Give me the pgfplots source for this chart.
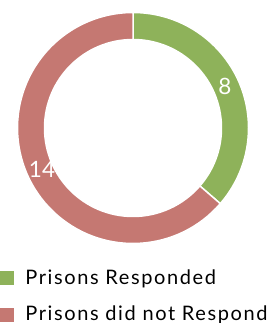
\documentclass[border=0pt]{standalone}
\usepackage{pgfplots}
\usepackage{pgfplotstable}
\pgfplotsset{compat=1.18}
\usepackage{fontspec}
\setmainfont{Lato}
\newfontfamily\legfont[LetterSpace=8]{Lato}
\definecolor{grn}{HTML}{8EB25A}
\definecolor{rd}{HTML}{C57872}
\pgfplotstableread{
label value
Responded 8
NotResponded 14
}\donutdata
\begin{document}
\begin{tikzpicture}
\pgfplotstablegetelem{0}{value}\of\donutdata \let\va\pgfplotsretval
\pgfplotstablegetelem{1}{value}\of\donutdata \let\vb\pgfplotsretval
\pgfmathsetmacro{\tot}{\va+\vb}
\pgfmathsetmacro{\sa}{90}
\pgfmathsetmacro{\sb}{90-360*\va/\tot}
\pgfmathsetmacro{\se}{90-360}
\pgfmathsetmacro{\ma}{(\sa+\sb)/2}
\pgfmathsetmacro{\mb}{(\sb+\se)/2}
\useasboundingbox (0,0) rectangle (269pt,323pt);
\begin{axis}[
  disabledatascaling,
  x=1pt, y=1pt,
  xmin=0, xmax=269, ymin=0, ymax=323,
  scale only axis,
  hide axis,
  clip=false,
  legend style={draw=none, fill=none, inner sep=0pt, outer sep=0pt,
    at={(axis cs:0,55)}, anchor=north west, font=\legfont\fontsize{20}{23}\selectfont,
    row sep=16pt, column sep=0pt},
  legend cell align=left,
]
\def\cx{133}\def\cy{195}\def\ro{115.5}\def\ri{88.5}
\fill[grn, draw=white, line width=1.5pt]
  (axis cs:{\cx+\ro*cos(\sa)},{\cy+\ro*sin(\sa)}) arc[start angle=\sa, end angle=\sb, radius=\ro]
  -- (axis cs:{\cx+\ri*cos(\sb)},{\cy+\ri*sin(\sb)}) arc[start angle=\sb, end angle=\sa, radius=\ri] -- cycle;
\fill[rd, draw=white, line width=1.5pt]
  (axis cs:{\cx+\ro*cos(\sb)},{\cy+\ro*sin(\sb)}) arc[start angle=\sb, end angle=\se, radius=\ro]
  -- (axis cs:{\cx+\ri*cos(\se)},{\cy+\ri*sin(\se)}) arc[start angle=\se, end angle=\sb, radius=\ri] -- cycle;
\node[white, font=\fontsize{22.5}{26}\selectfont] at (axis cs:{\cx+101*cos(\ma)},{\cy+101*sin(\ma)}) {\va};
\node[white, font=\fontsize{22.5}{26}\selectfont] at (axis cs:{\cx+100*cos(\mb)},{\cy+100*sin(\mb)}) {\vb};
\addlegendimage{legend image code/.code={\fill[grn] (0pt,-6.5pt) rectangle (13pt,6.5pt);}}
\addlegendentry{\hspace{10pt}Prisons Responded}
\addlegendimage{legend image code/.code={\fill[rd] (0pt,-6.5pt) rectangle (13pt,6.5pt);}}
\addlegendentry{\hspace{10pt}Prisons did not Respond}
\end{axis}
\end{tikzpicture}
\end{document}
